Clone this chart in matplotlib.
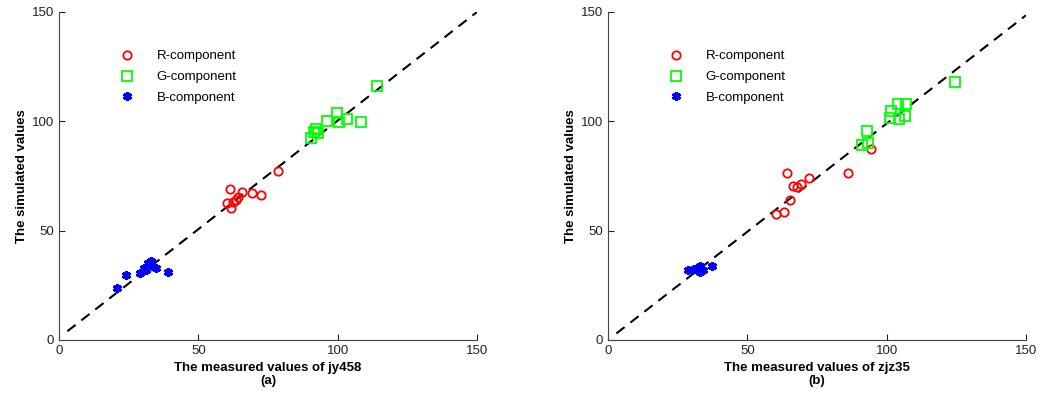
import numpy as np
import matplotlib
matplotlib.use("Agg")
import matplotlib.pyplot as plt

plt.rcParams['font.family'] = ['Liberation Sans', 'DejaVu Sans']

# panel (a): jy458
r_a_x = [61.4, 78.6, 60.3, 61.7, 62.4, 64.2, 65.7, 69.2, 72.5, 63.5]
r_a_y = [69.0, 77.3, 62.6, 60.4, 63.1, 65.4, 67.7, 67.2, 66.3, 64.0]
g_a_x = [114.1, 99.7, 96.2, 100.5, 103.3, 108.4, 92.2, 91.5, 90.4, 92.9]
g_a_y = [116.1, 103.8, 100.1, 99.7, 101.1, 99.7, 96.5, 95.1, 92.4, 94.7]
b_a_x = [20.8, 24.0, 29.1, 31.9, 33.4, 31.2, 30.5, 33.0, 34.8, 39.1]
b_a_y = [23.8, 29.7, 30.6, 35.2, 33.8, 32.0, 32.9, 36.1, 32.9, 31.1]
line_a = ([3, 150], [4, 150])

# panel (b): zjz35
r_b_x = [64.2, 86.1, 72.1, 69.2, 66.4, 67.8, 65.3, 63.2, 60.3, 94.4]
r_b_y = [76.4, 76.4, 74.1, 71.3, 70.4, 70.0, 64.0, 58.5, 57.6, 87.3]
g_b_x = [124.5, 91.1, 93.3, 92.9, 101.2, 101.5, 104.1, 106.9, 106.6, 104.4]
g_b_y = [118.0, 89.2, 90.1, 95.6, 101.5, 104.7, 107.9, 107.9, 102.4, 101.1]
b_b_x = [28.7, 30.9, 32.3, 33.0, 33.0, 31.9, 37.3, 34.1]
b_b_y = [32.0, 32.5, 32.9, 31.1, 33.8, 32.0, 33.8, 32.0]
line_b = ([3, 150], [3, 148.5])

ticks = [0, 50, 100, 150]

fig = plt.figure(figsize=(10.39, 4.0), dpi=100)
ax1 = fig.add_axes([0.0568, 0.15, 0.4023, 0.82])
ax2 = fig.add_axes([0.5852, 0.15, 0.4023, 0.82])

def panel(ax, rx, ry, gx, gy, bx, by, line, xlabel):
    ax.plot(line[0], line[1], color="black", linestyle=(0, (5, 3.5)), linewidth=1.5, zorder=1)
    ax.plot(rx, ry, linestyle="none", marker="o", markersize=6, markerfacecolor="none",
            markeredgecolor="red", markeredgewidth=1.3, label="R-component")
    ax.plot(gx, gy, linestyle="none", marker="s", markersize=7, markerfacecolor="none",
            markeredgecolor="#00ff00", markeredgewidth=1.3, label="G-component")
    ax.plot(bx, by, linestyle="none", marker=(6, 2, 0), markersize=6.5,
            markeredgecolor="blue", markeredgewidth=2.2, label="B-component")
    ax.set_xlim(0, 150)
    ax.set_ylim(0, 150)
    ax.set_xticks(ticks)
    ax.set_yticks(ticks)
    ax.tick_params(direction="in", length=4, labelsize=9.5, colors="#222222")
    for s in ["top", "right"]:
        ax.spines[s].set_visible(False)
    for s in ["left", "bottom"]:
        ax.spines[s].set_color("#444444")
    ax.set_xlabel(xlabel, fontsize=9.5, fontweight="bold", linespacing=1.05, labelpad=4)
    ax.set_ylabel("The simulated values", fontsize=9.5, fontweight="bold", labelpad=3)
    ax.legend(loc="upper left", bbox_to_anchor=(0.11, 0.92), frameon=False, fontsize=9.5,
              handletextpad=1.5, labelspacing=0.65, handlelength=1.5)

panel(ax1, r_a_x, r_a_y, g_a_x, g_a_y, b_a_x, b_a_y, line_a, "The measured values of jy458\n(a)")
panel(ax2, r_b_x, r_b_y, g_b_x, g_b_y, b_b_x, b_b_y, line_b, "The measured values of zjz35\n(b)")

fig.savefig("out.png", dpi=100)
